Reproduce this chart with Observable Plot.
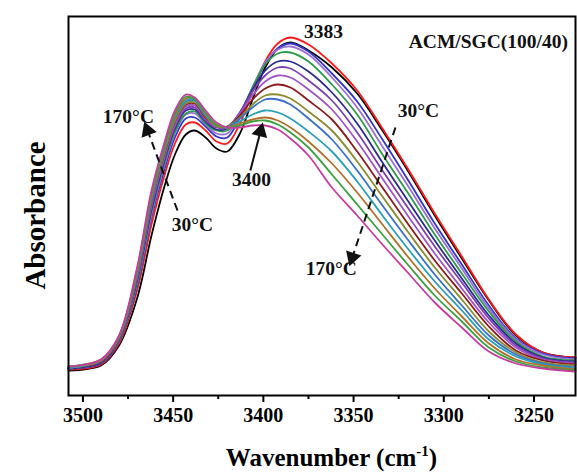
<!DOCTYPE html>
<html><head><meta charset="utf-8">
<script src="https://cdn.jsdelivr.net/npm/d3@7"></script>
<script src="https://cdn.jsdelivr.net/npm/@observablehq/plot@0.6"></script>
<style>html,body{margin:0;padding:0;background:#fff}#chart svg{display:block}</style>
</head><body><div id="chart"></div>
<script>
// ---- data (absorbance in arbitrary units) ----
const wavenumbers = [3508,3490,3480,3470,3462,3455,3449,3443,3438,3432,3426,3420,3413,3406,3399,3392,3385,3375,3362,3348,3334,3320,3305,3290,3275,3260,3245,3227];
const temperatures = [30,40,50,60,70,80,90,100,110,120,130,140,150,160,170];
const abs30  = [25,30,50,97,160,208,241,261,265,258,247,244,262,296,328,347,353,345,328,302,265,225,180,137,95,60,43,38];
const abs40  = [26,31,52,105,171,219,252,271,273,265,254,252,272,304,334,352,358,351,332,305,267,227,182,139,96,61,43,38];
const abs50  = [27,32,54,109,178,225,258,277,278,269,259,258,278,306,332,347,352,344,322,294,256,216,172,131,90,57,42,37];
const abs60  = [27,33,55,112,181,229,262,281,282,271,262,262,280,308,333,346,349,341,318,288,249,210,167,127,87,56,41,36];
const abs70  = [27,33,55,113,184,231,264,282,284,272,265,265,282,308,331,342,343,334,311,281,241,203,161,122,84,54,39,35];
const abs80  = [27,33,56,115,186,234,267,285,286,274,266,267,283,306,325,334,334,324,303,272,233,195,155,117,80,52,38,34];
const abs90  = [28,34,56,117,189,236,269,287,288,275,268,268,283,304,320,328,327,315,295,263,225,188,149,113,77,50,37,33];
const abs100 = [28,34,57,118,191,238,271,289,290,277,269,269,282,300,314,320,318,306,286,254,217,180,142,107,73,48,36,32];
const abs110 = [28,34,57,120,194,241,274,291,292,278,270,269,280,296,307,311,308,295,276,244,208,172,135,102,69,45,35,31];
const abs120 = [28,35,58,121,195,242,275,292,293,279,269,269,278,291,300,301,297,284,265,234,199,164,128,96,64,43,33,30];
const abs130 = [28,35,58,123,197,245,278,294,295,280,270,268,277,288,296,296,291,277,256,225,190,156,121,90,60,41,32,28];
const abs140 = [28,35,59,124,199,246,279,295,296,281,270,268,274,281,285,283,277,264,244,214,180,147,114,85,56,39,31,27];
const abs150 = [29,35,59,125,200,247,280,297,297,282,270,268,272,276,278,275,268,254,232,203,171,139,107,79,52,36,30,26];
const abs160 = [29,36,59,126,202,249,282,299,296,283,271,268,270,274,275,271,263,248,221,191,161,131,100,74,48,34,28,25];
const abs170 = [29,36,60,128,205,252,285,301,298,285,273,268,268,270,270,266,257,240,208,180,151,123,93,68,44,32,27,24];
const seriesValues = [abs30,abs40,abs50,abs60,abs70,abs80,abs90,abs100,abs110,abs120,abs130,abs140,abs150,abs160,abs170];
const seriesColors = ["#000000","#ff1a1a","#3535c8","#9b6fd6","#2e9a4c","#2b2b8f","#7a3fb0","#a055c8","#8b1a1a","#8b8b30","#3a6fc8","#2aa0b8","#b0702a","#3aa040","#c83ca0"];
const xTicks = [3500,3450,3400,3350,3300,3250];
const xMinorTicks = [3475,3425,3375,3325,3275];
const xDomain = [3508, 3227];
const yDomain = [0, 379];

// annotations (data coordinates: wavenumber, absorbance)
const labelText = ["3383","ACM/SGC(100/40)","30°C","170°C","170°C","30°C","3400"];
const labelW    = [3366.7,3275.3,3314.1,3362.3,3474.8,3439.3,3406.6];
const labelA    = [364,354,285,127,279,171,216];
const arrowW1 = [3407.2,3326.8,3447.6];
const arrowA1 = [225,268,185];
const arrowW2 = [3401.6,3350.7,3464.2];
const arrowA2 = [264,138,265];
const arrowDashed = [false,true,true];

// ---- build tables ----
const rows = [];
temperatures.forEach((T, i) => wavenumbers.forEach((w, j) => rows.push({T, w, a: seriesValues[i][j]})));
const labels = labelText.map((t, i) => ({t, w: labelW[i], a: labelA[i]}));
const W = 577, H = 473, mL = 68, mR = 2, mT = 16, mB = 78;
const pxPerW = (W - mR - mL) / (xDomain[0] - xDomain[1]);
const pxPerA = (H - mB - mT) / (yDomain[1] - yDomain[0]);
const arrows = arrowW1.map((w1, i) => {
  const sdx = (w1 - arrowW2[i]) * pxPerW;
  const sdy = -(arrowA2[i] - arrowA1[i]) * pxPerA;
  return {w1, a1: arrowA1[i], w2: arrowW2[i], a2: arrowA2[i], dashed: arrowDashed[i],
          rot: Math.atan2(sdx, -sdy) * 180 / Math.PI};
});

const font = "'Liberation Serif','Times New Roman',serif";
const plot = Plot.plot({
  width: W, height: H,
  marginLeft: mL, marginRight: mR, marginTop: mT, marginBottom: mB,
  style: {fontFamily: font, fontWeight: "bold", background: "#fff", color: "#000"},
  x: {domain: xDomain, label: null},
  y: {domain: yDomain, axis: null},
  color: {domain: temperatures, range: seriesColors},
  marks: [
    Plot.line(rows, {x: "w", y: "a", z: "T", stroke: "T", strokeWidth: 1.8, curve: "catmull-rom"}),
    Plot.frame({stroke: "#000", strokeWidth: 2}),
    Plot.axisX(xTicks, {tickSize: 7, tickPadding: 5, tickFormat: d => String(d), fontSize: 20, strokeWidth: 2, label: null}),
    Plot.axisX(xMinorTicks, {tickSize: 4, tickFormat: () => "", strokeWidth: 2, label: null}),
    Plot.text(labels, {x: "w", y: "a", text: "t", fontSize: 19.5, textAnchor: "middle", lineAnchor: "middle", fill: "#111"}),
    Plot.link(arrows.filter(d => d.dashed), {x1: "w1", y1: "a1", x2: "w2", y2: "a2", stroke: "#111", strokeWidth: 2, strokeDasharray: "8,5"}),
    Plot.link(arrows.filter(d => !d.dashed), {x1: "w1", y1: "a1", x2: "w2", y2: "a2", stroke: "#111", strokeWidth: 2}),
    Plot.dot(arrows, {x: "w2", y: "a2", symbol: "triangle", r: 6, fill: "#111", stroke: null, rotate: "rot"})
  ]
});
document.getElementById("chart").appendChild(plot);

const svg = d3.select(plot);
svg.selectAll("text").style("font-weight", "bold").style("font-family", font);

// axis titles
const xt = svg.append("text")
  .attr("x", (mL + W - mR) / 2 + 10).attr("y", 466)
  .attr("text-anchor", "middle")
  .style("font-family", font).style("font-weight", "bold").style("font-size", "25px").attr("fill", "#000");
xt.append("tspan").text("Wavenumber (cm");
xt.append("tspan").attr("dy", -10).style("font-size", "15px").text("-1");
xt.append("tspan").attr("dy", 10).text(")");
svg.append("text")
  .attr("transform", `translate(35,${(mT + H - mB) / 2 + 10}) rotate(-90)`)
  .attr("text-anchor", "middle").attr("dy", "0.35em")
  .style("font-family", font).style("font-weight", "bold").style("font-size", "29px").attr("fill", "#000")
  .text("Absorbance");
</script>
</body></html>
